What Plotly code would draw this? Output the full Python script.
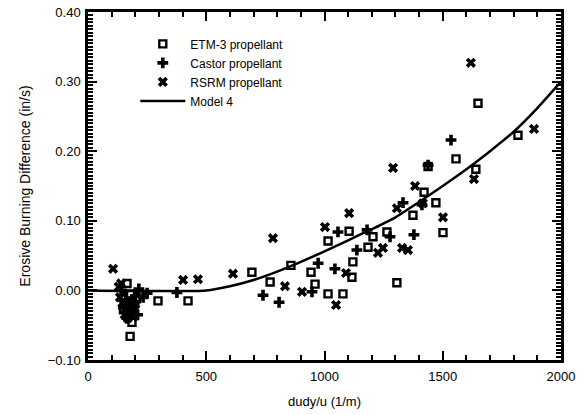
import plotly.graph_objects as go

# ETM-3 propellant (open squares)
etm_x = [165, 180, 190, 150, 186, 178, 205, 296, 423, 693, 770, 858, 943, 960, 1015, 1078,
         1120, 1116, 1015, 1104, 1184, 1205, 1264, 1306, 1374, 1421, 1471, 1501, 1438,
         1556, 1640, 1649, 1818, 170, 160]
etm_y = [0.010, -0.005, -0.022, -0.028, -0.046, -0.066, -0.012, -0.015, -0.015, 0.026, 0.012,
         0.036, 0.026, 0.009, -0.005, -0.005, 0.041, 0.019, 0.071, 0.085, 0.062, 0.077, 0.084,
         0.011, 0.108, 0.141, 0.126, 0.083, 0.178, 0.189, 0.174, 0.269, 0.223, -0.030, -0.018]

# Castor propellant (plus)
cas_x = [140, 160, 172, 195, 210, 233, 250, 215, 376, 740, 808, 973, 947, 1044, 1057, 1137,
         1180, 1277, 1378, 1332, 1412, 1438, 1535, 150, 165, 185, 200]
cas_y = [0.000, -0.015, -0.032, -0.020, -0.035, -0.010, -0.004, 0.002, -0.003, -0.007, -0.017,
         0.039, -0.002, 0.031, 0.084, 0.058, 0.087, 0.077, 0.080, 0.126, 0.123, 0.180, 0.216,
         -0.025, -0.040, -0.030, -0.008]

# RSRM propellant (x)
rsrm_x = [106, 130, 145, 155, 168, 182, 140, 200, 402, 465, 613, 782, 833, 905, 1049, 1091,
          1002, 1104, 1247, 1226, 1328, 1353, 1306, 1290, 1383, 1501, 1416, 1619, 1632, 1886,
          135, 150, 175, 190]
rsrm_y = [0.031, 0.005, -0.018, -0.035, -0.040, -0.028, 0.010, -0.020, 0.015, 0.016, 0.024,
          0.075, 0.006, -0.002, -0.021, 0.025, 0.091, 0.111, 0.061, 0.054, 0.061, 0.058, 0.118,
          0.176, 0.150, 0.105, 0.125, 0.327, 0.160, 0.232, -0.010, -0.005, -0.015, -0.038]

# Model 4 curve
model_x = [0, 500, 600, 700, 800, 900, 1000, 1100, 1200, 1300, 1400, 1500, 1600, 1700, 1800, 1900, 2000]
model_y = [0.0, 0.0, 0.006, 0.015, 0.027, 0.041, 0.056, 0.072, 0.088, 0.105, 0.127, 0.150,
           0.174, 0.200, 0.228, 0.262, 0.300]

FONT = "Liberation Sans"

fig = go.Figure()
fig.add_trace(go.Scatter(x=etm_x, y=etm_y, mode="markers", name="ETM-3 propellant",
                         marker=dict(symbol="square-open", size=7, color="black",
                                     line=dict(width=2.4, color="black"))))
fig.add_trace(go.Scatter(x=cas_x, y=cas_y, mode="markers", name="Castor propellant",
                         marker=dict(symbol="cross", size=9, color="black",
                                     line=dict(width=0))))
fig.add_trace(go.Scatter(x=rsrm_x, y=rsrm_y, mode="markers", name="RSRM propellant",
                         marker=dict(symbol="x", size=9, color="black",
                                     line=dict(width=0))))
fig.add_trace(go.Scatter(x=model_x, y=model_y, mode="lines", name="Model 4",
                         line=dict(color="black", width=2.5, shape="spline", smoothing=0.6)))

axis_common = dict(showgrid=False, zeroline=False, showline=True, linecolor="black",
                   linewidth=2.5, mirror="allticks", ticks="inside", tickcolor="black",
                   automargin=False,
                   tickfont=dict(family=FONT, size=13, color="black"))

fig.update_xaxes(range=[0, 2000], tickmode="linear", tick0=0, dtick=500, ticklen=9, tickwidth=2,
                 minor=dict(tickmode="linear", tick0=0, dtick=100, ticks="inside", ticklen=5,
                            tickcolor="black", tickwidth=1.8, showgrid=False),
                 title=dict(text="dudy/u (1/m)", font=dict(family=FONT, size=13, color="black"),
                            standoff=14),
                 ticklabelstandoff=3,
                 **axis_common)
fig.update_yaxes(range=[-0.10, 0.40], tickmode="linear", tick0=0, dtick=0.1, tickformat=".2f",
                 ticklen=9, tickwidth=2,
                 minor=dict(tickmode="linear", tick0=0, dtick=0.005, ticks="inside", ticklen=5,
                            tickcolor="black", tickwidth=1.5, showgrid=False),
                 title=dict(text="Erosive Burning Difference (in/s)",
                            font=dict(family=FONT, size=14, color="black"), standoff=14),
                 ticklabelstandoff=2,
                 **axis_common)

fig.update_layout(
    template="none",
    width=585, height=415,
    margin=dict(l=88, r=24, t=12, b=55, autoexpand=False),
    plot_bgcolor="white", paper_bgcolor="white",
    font=dict(family=FONT, color="black"),
    legend=dict(x=0.1, y=0.95, xanchor="left", yanchor="top",
                bgcolor="rgba(0,0,0,0)", borderwidth=0,
                font=dict(family=FONT, size=12, color="black"),
                tracegroupgap=0, itemwidth=45),
    showlegend=True,
)

fig.write_html("out.html")
